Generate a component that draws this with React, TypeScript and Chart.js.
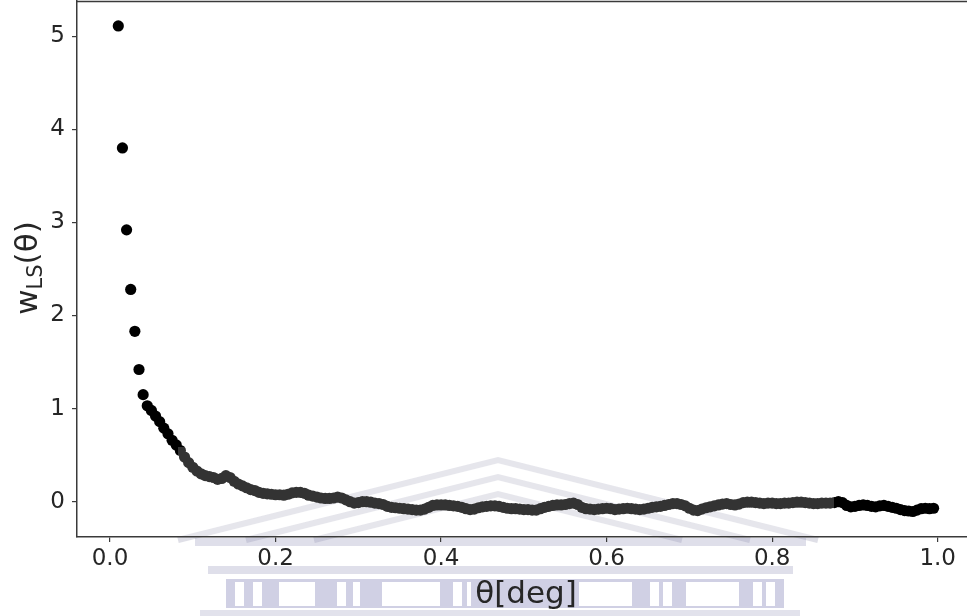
import React, { useEffect, useRef } from "react";
import { Chart, registerables } from "chart.js";

Chart.register(...registerables);

// Angular separation bins (degrees)
const THETA_DEG: number[] = [
  0.010, 0.015, 0.020, 0.025, 0.030, 0.035, 0.040, 0.045, 0.050, 0.055,
  0.060, 0.065, 0.070, 0.075, 0.080, 0.085, 0.090, 0.095, 0.100, 0.105,
  0.110, 0.115, 0.120, 0.125, 0.130, 0.135, 0.140, 0.145, 0.150, 0.155,
  0.160, 0.165, 0.170, 0.175, 0.180, 0.185, 0.190, 0.195, 0.200, 0.205,
  0.210, 0.215, 0.220, 0.225, 0.230, 0.235, 0.240, 0.245, 0.250, 0.255,
  0.260, 0.265, 0.270, 0.275, 0.280, 0.285, 0.290, 0.295, 0.300, 0.305,
  0.310, 0.315, 0.320, 0.325, 0.330, 0.335, 0.340, 0.345, 0.350, 0.355,
  0.360, 0.365, 0.370, 0.375, 0.380, 0.385, 0.390, 0.395, 0.400, 0.405,
  0.410, 0.415, 0.420, 0.425, 0.430, 0.435, 0.440, 0.445, 0.450, 0.455,
  0.460, 0.465, 0.470, 0.475, 0.480, 0.485, 0.490, 0.495, 0.500, 0.505,
  0.510, 0.515, 0.520, 0.525, 0.530, 0.535, 0.540, 0.545, 0.550, 0.555,
  0.560, 0.565, 0.570, 0.575, 0.580, 0.585, 0.590, 0.595, 0.600, 0.605,
  0.610, 0.615, 0.620, 0.625, 0.630, 0.635, 0.640, 0.645, 0.650, 0.655,
  0.660, 0.665, 0.670, 0.675, 0.680, 0.685, 0.690, 0.695, 0.700, 0.705,
  0.710, 0.715, 0.720, 0.725, 0.730, 0.735, 0.740, 0.745, 0.750, 0.755,
  0.760, 0.765, 0.770, 0.775, 0.780, 0.785, 0.790, 0.795, 0.800, 0.805,
  0.810, 0.815, 0.820, 0.825, 0.830, 0.835, 0.840, 0.845, 0.850, 0.855,
  0.860, 0.865, 0.870, 0.875, 0.880, 0.885, 0.890, 0.895, 0.900, 0.905,
  0.910, 0.915, 0.920, 0.925, 0.930, 0.935, 0.940, 0.945, 0.950, 0.955,
  0.960, 0.965, 0.970, 0.975, 0.980, 0.985, 0.990, 0.995,
];

// Landy-Szalay correlation estimate w_LS(theta)
const W_LS: number[] = [
  5.11, 3.80, 2.92, 2.28, 1.83, 1.42, 1.15, 1.03, 0.98, 0.92,
  0.86, 0.79, 0.73, 0.66, 0.61, 0.55, 0.48, 0.42, 0.37, 0.33,
  0.30, 0.28, 0.27, 0.26, 0.24, 0.25, 0.28, 0.26, 0.22, 0.19,
  0.17, 0.15, 0.13, 0.12, 0.10, 0.09, 0.085, 0.08, 0.075, 0.075,
  0.07, 0.08, 0.095, 0.10, 0.10, 0.09, 0.07, 0.06, 0.05, 0.04,
  0.035, 0.035, 0.04, 0.05, 0.04, 0.02, 0.0, -0.015, -0.01, 0.0,
  0.0, -0.005, -0.015, -0.02, -0.03, -0.05, -0.06, -0.065, -0.07, -0.075,
  -0.08, -0.085, -0.09, -0.09, -0.08, -0.06, -0.04, -0.035, -0.035, -0.035,
  -0.04, -0.045, -0.05, -0.06, -0.075, -0.085, -0.08, -0.065, -0.055, -0.05,
  -0.045, -0.045, -0.05, -0.06, -0.07, -0.075, -0.075, -0.08, -0.085, -0.085,
  -0.09, -0.09, -0.075, -0.06, -0.05, -0.04, -0.035, -0.035, -0.03, -0.02,
  -0.015, -0.03, -0.06, -0.075, -0.08, -0.085, -0.08, -0.075, -0.07, -0.075,
  -0.085, -0.08, -0.075, -0.07, -0.075, -0.08, -0.085, -0.08, -0.07, -0.06,
  -0.055, -0.05, -0.04, -0.03, -0.02, -0.02, -0.03, -0.045, -0.07, -0.09,
  -0.095, -0.08, -0.065, -0.055, -0.045, -0.035, -0.025, -0.02, -0.03, -0.035,
  -0.025, -0.01, -0.005, -0.005, -0.01, -0.015, -0.02, -0.015, -0.015, -0.02,
  -0.02, -0.015, -0.015, -0.01, -0.005, -0.005, -0.01, -0.015, -0.02, -0.02,
  -0.015, -0.015, -0.015, -0.01, 0.0, -0.01, -0.04, -0.055, -0.05, -0.04,
  -0.035, -0.04, -0.05, -0.055, -0.045, -0.04, -0.05, -0.06, -0.07, -0.085,
  -0.095, -0.1, -0.105, -0.09, -0.075, -0.07, -0.075, -0.07,
];

const X_TICKS = [0.0, 0.2, 0.4, 0.6, 0.8, 1.0];
const Y_TICKS = [0, 1, 2, 3, 4, 5];
const X_TITLE = "θ[deg]";
const Y_TITLE_MAIN = "w";
const Y_TITLE_SUB = "LS";
const Y_TITLE_TAIL = "(θ)";

const FONT = "'DejaVu Sans', 'Liberation Sans', sans-serif";
const SPINE = "#3a3a3a";

// Faint background watermark (decorative building emblem) and titles
const decorPlugin = {
  id: "decor",
  beforeDraw(chart: any) {
    const ctx = chart.ctx as CanvasRenderingContext2D;
    ctx.save();
    // pediment chevrons
    ctx.strokeStyle = "rgba(150,150,175,0.3)";
    ctx.lineWidth = 6;
    const apexX = 498;
    [460, 477, 494].forEach((ay) => {
      const half = (540 - ay) / 0.25;
      ctx.beginPath();
      ctx.moveTo(apexX - half, 540);
      ctx.lineTo(apexX, ay);
      ctx.lineTo(apexX + half, 540);
      ctx.stroke();
    });
    // cornice bands
    ctx.fillStyle = "rgba(150,150,185,0.3)";
    ctx.fillRect(195, 538, 611, 8);
    ctx.fillRect(208, 566, 585, 8);
    // column row
    ctx.fillStyle = "rgba(150,150,195,0.45)";
    ctx.fillRect(226, 579, 558, 29);
    ctx.fillStyle = "#ffffff";
    const gaps = [
      [235, 244], [253, 262], [279, 315], [337, 346], [353, 360], [382, 440],
      [453, 462], [467, 471], [579, 632], [650, 659], [663, 672], [686, 739],
      [753, 762], [766, 775],
    ];
    gaps.forEach(([a, b]) => ctx.fillRect(a, 582, b - a, 24));
    // base band
    ctx.fillStyle = "rgba(150,150,185,0.28)";
    ctx.fillRect(200, 610, 600, 6);
    ctx.restore();
  },
  afterDatasetsDraw(chart: any) {
    const ctx = chart.ctx as CanvasRenderingContext2D;
    const ca = chart.chartArea;
    ctx.save();
    ctx.fillStyle = "rgba(255,255,255,0.2)";
    ctx.fillRect(178, 447, 834 - 178, ca.bottom - 1 - 447);
    ctx.restore();
  },
  afterDraw(chart: any) {
    const ctx = chart.ctx as CanvasRenderingContext2D;
    const ca = chart.chartArea;
    ctx.save();
    // top spine
    ctx.strokeStyle = SPINE;
    ctx.lineWidth = 1.5;
    ctx.beginPath();
    ctx.moveTo(ca.left, ca.top + 0.5);
    ctx.lineTo(ca.right, ca.top + 0.5);
    ctx.stroke();

    ctx.fillStyle = "#262626";
    // x title
    ctx.font = `31px ${FONT}`;
    ctx.textAlign = "center";
    ctx.textBaseline = "alphabetic";
    ctx.fillText(X_TITLE, 526, 603);

    // y title, rotated with subscript
    const big = 31;
    const small = 21;
    ctx.font = `${big}px ${FONT}`;
    const w1 = ctx.measureText(Y_TITLE_MAIN).width;
    const w3 = ctx.measureText(Y_TITLE_TAIL).width;
    ctx.font = `${small}px ${FONT}`;
    const w2 = ctx.measureText(Y_TITLE_SUB).width;
    const total = w1 + w2 + w3;
    const cx = 37;
    const cy = 268;
    ctx.translate(cx, cy);
    ctx.rotate(-Math.PI / 2);
    ctx.textAlign = "left";
    let x = -total / 2;
    ctx.font = `${big}px ${FONT}`;
    ctx.fillText(Y_TITLE_MAIN, x, 0);
    x += w1;
    ctx.font = `${small}px ${FONT}`;
    ctx.fillText(Y_TITLE_SUB, x, 5);
    x += w2;
    ctx.font = `${big}px ${FONT}`;
    ctx.fillText(Y_TITLE_TAIL, x, 0);
    ctx.restore();
  },
};

export default function App() {
  const canvasRef = useRef<HTMLCanvasElement | null>(null);

  useEffect(() => {
    const canvas = canvasRef.current;
    if (!canvas) return;
    const points = THETA_DEG.map((t, i) => ({ x: t, y: W_LS[i] }));
    const chart = new Chart(canvas, {
      type: "scatter",
      data: {
        datasets: [
          {
            data: points,
            backgroundColor: "#000000",
            borderWidth: 0,
            pointRadius: 5.6,
            pointHoverRadius: 5.6,
            showLine: false,
            clip: false,
          },
        ],
      },
      options: {
        animation: false,
        responsive: true,
        maintainAspectRatio: false,
        devicePixelRatio: 1,
        layout: {
          autoPadding: false,
          padding: { top: 1, right: 0, left: 0, bottom: 0 },
        },
        plugins: {
          legend: { display: false },
          tooltip: { enabled: false },
        },
        scales: {
          x: {
            type: "linear",
            min: -0.0399,
            max: 1.0354,
            afterBuildTicks: (scale: any) => {
              scale.ticks = X_TICKS.map((v) => ({ value: v }));
            },
            afterFit: (scale: any) => {
              scale.height = 79;
              scale.paddingLeft = 0;
              scale.paddingRight = 0;
            },
            ticks: {
              callback: (v: any) => Number(v).toFixed(1),
              font: { family: FONT, size: 23 },
              color: "#262626",
              padding: 3,
              maxRotation: 0,
              autoSkip: false,
            },
            grid: {
              display: true,
              drawOnChartArea: false,
              drawTicks: true,
              tickLength: 5,
              color: SPINE,
              lineWidth: 1.2,
            },
            border: { display: true, color: SPINE, width: 1.5 },
          },
          y: {
            type: "linear",
            min: -0.379,
            max: 5.378,
            afterBuildTicks: (scale: any) => {
              scale.ticks = Y_TICKS.map((v) => ({ value: v }));
            },
            afterFit: (scale: any) => {
              scale.width = 77;
              scale.paddingTop = 0;
              scale.paddingBottom = 0;
            },
            ticks: {
              callback: (v: any) => String(v),
              font: { family: FONT, size: 23 },
              color: "#262626",
              padding: 7,
              autoSkip: false,
            },
            grid: {
              display: true,
              drawOnChartArea: false,
              drawTicks: true,
              tickLength: 5,
              color: SPINE,
              lineWidth: 1.2,
            },
            border: { display: true, color: SPINE, width: 1.5 },
          },
        },
      },
      plugins: [decorPlugin],
    });
    return () => chart.destroy();
  }, []);

  return (
    <div
      style={{
        position: "fixed",
        left: 0,
        top: 0,
        width: 967,
        height: 616,
        background: "#ffffff",
      }}
    >
      <canvas ref={canvasRef} />
    </div>
  );
}
